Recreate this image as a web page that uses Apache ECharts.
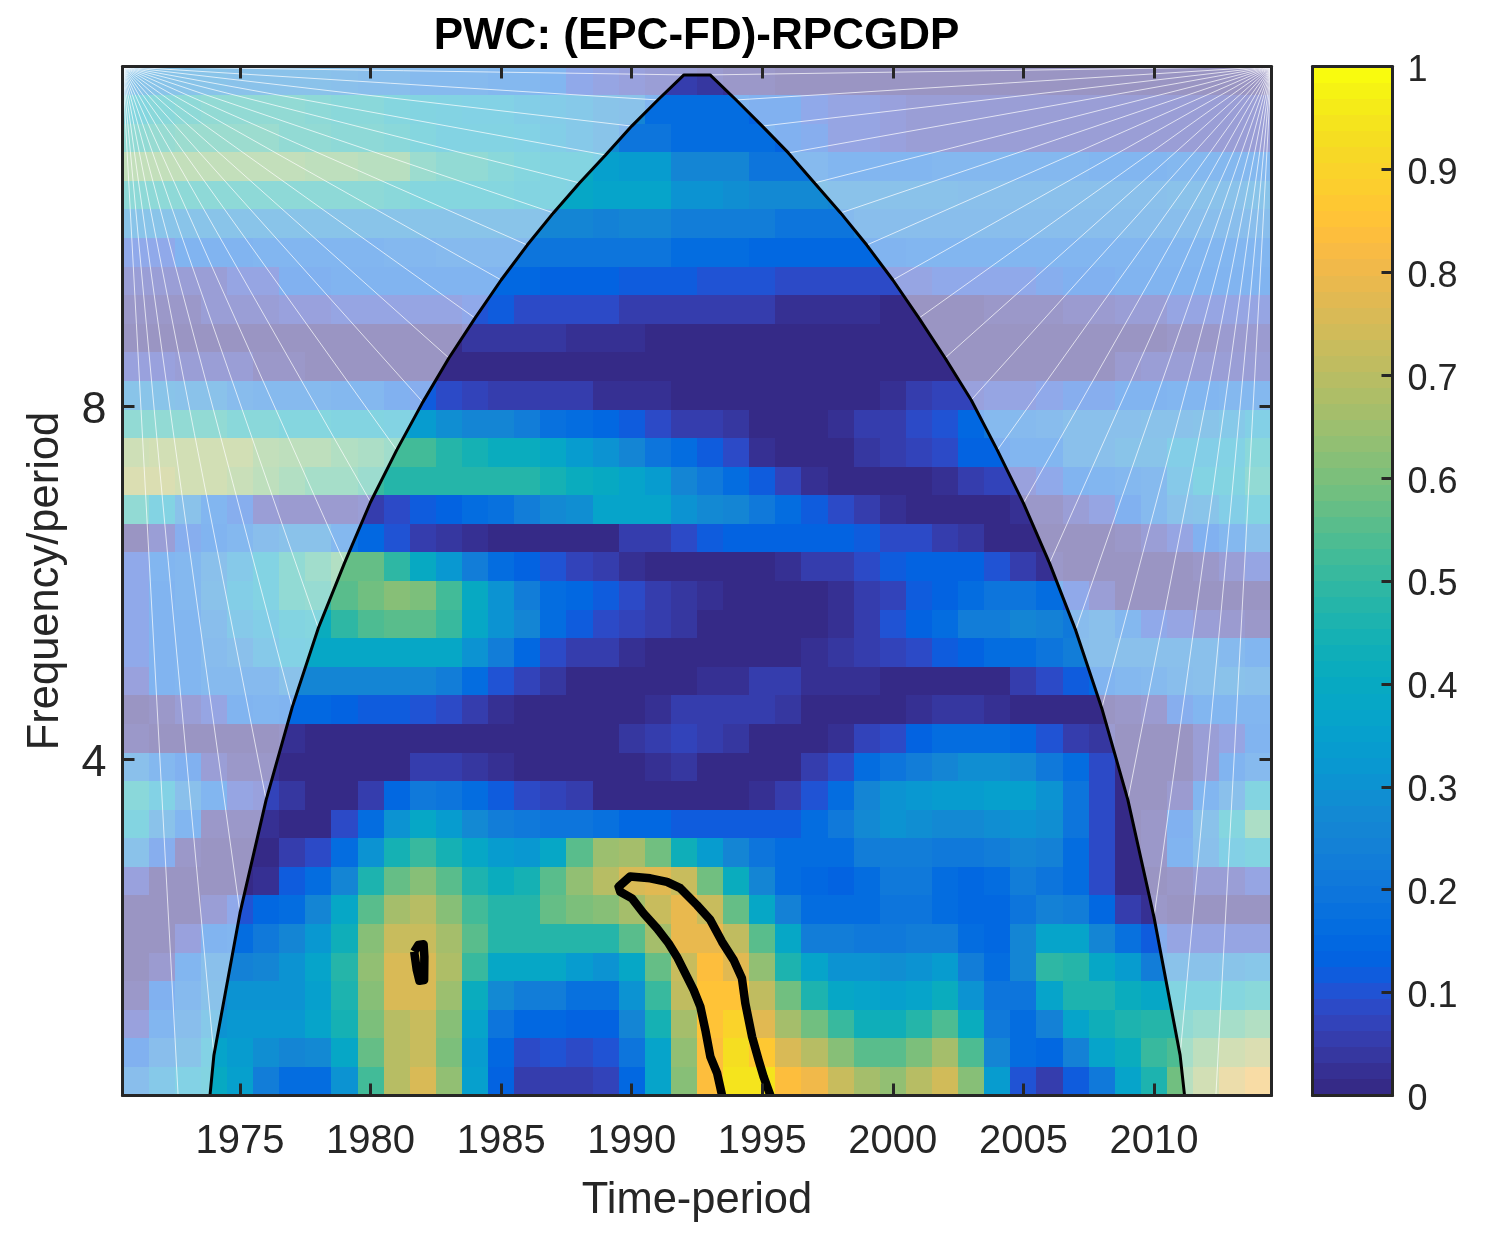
<!DOCTYPE html>
<html>
<head>
<meta charset="utf-8">
<script src="https://cdn.jsdelivr.net/npm/echarts@6/dist/echarts.min.js"></script>
<style>html,body{margin:0;padding:0;background:#fff}#c{width:1511px;height:1233px}</style>
</head>
<body>
<div id="c"></div>
<script>
const chartTitle = 'PWC: (EPC-FD)-RPCGDP';
const xName = 'Time-period';
const yName = 'Frequency/period';
const years = Array.from({length: 44}, (_, i) => 1971 + i);
const yearTicks = [1975, 1980, 1985, 1990, 1995, 2000, 2005, 2010];
const periodTicksLog2 = [2, 3];
const colorTicks = [0, .1, .2, .3, .4, .5, .6, .7, .8, .9, 1];
const xMin = 1970.5, xMax = 2014.5;
const yMin = 1.0467, yMax = 3.9618;

// wavelet coherence, rows from the longest period (top) to the shortest (bottom)
const coherence = [
[.28,.28,.28,.27,.26,.26,.25,.25,.24,.23,.22,.2,.2,.19,.18,.18,.16,.1,.08,.07,.06,.06,.04,.03,.02,.01,.01,.01,.01,0,0,0,0,0,0,0,0,0,0,0,0,0,0,0],
[.42,.44,.46,.47,.48,.48,.47,.46,.45,.44,.42,.4,.38,.37,.37,.34,.32,.3,.28,.26,.16,.16,.16,.16,.13,.13,.1,.09,.08,.07,.06,.06,.06,.06,.06,.06,.06,.06,.06,.06,.06,.06,.06,.06],
[.48,.49,.5,.5,.5,.5,.48,.47,.46,.46,.44,.41,.39,.38,.38,.36,.33,.3,.28,.2,.2,.16,.16,.16,.16,.13,.12,.09,.08,.07,.06,.06,.06,.06,.06,.06,.06,.06,.06,.06,.06,.06,.06,.06],
[.62,.62,.62,.62,.61,.61,.61,.6,.6,.59,.59,.5,.47,.47,.45,.41,.4,.4,.35,.33,.33,.26,.25,.25,.2,.2,.2,.17,.17,.17,.17,.18,.18,.18,.18,.18,.18,.17,.17,.17,.18,.18,.18,.18],
[.46,.46,.46,.46,.46,.46,.46,.46,.46,.46,.44,.42,.42,.42,.41,.4,.4,.39,.37,.37,.36,.31,.31,.29,.28,.28,.27,.25,.25,.25,.25,.25,.24,.24,.24,.24,.24,.24,.24,.24,.25,.25,.26,.27],
[.28,.28,.28,.28,.28,.28,.28,.28,.28,.28,.28,.28,.28,.28,.27,.27,.26,.25,.24,.25,.25,.23,.23,.23,.23,.2,.2,.2,.22,.23,.23,.23,.23,.23,.23,.23,.23,.23,.23,.23,.23,.23,.23,.23],
[.1,.1,.15,.15,.15,.16,.16,.17,.17,.17,.18,.18,.19,.19,.19,.19,.19,.19,.19,.19,.19,.17,.17,.17,.15,.15,.15,.15,.15,.15,.16,.16,.16,.16,.16,.16,.16,.16,.16,.16,.16,.16,.16,.16],
[.06,.06,.06,.06,.09,.09,.13,.13,.15,.15,.15,.15,.15,.15,.15,.15,.14,.14,.14,.12,.12,.12,.1,.1,.1,.08,.08,.08,.08,.08,.09,.1,.1,.1,.1,.12,.13,.14,.15,.15,.15,.15,.15,.15],
[.02,.02,.03,.05,.05,.05,.07,.07,.08,.08,.08,.08,.08,.1,.11,.09,.09,.08,.08,.06,.06,.05,.05,.05,.05,.02,.02,.02,.02,.01,.01,.01,.01,.03,.03,.03,.04,.04,.06,.06,.08,.08,.08,.08],
[.01,.01,.01,.01,.01,.01,.01,.01,.01,.01,.01,.01,.01,.04,.04,.04,.04,.03,.03,.03,0,0,0,0,0,0,0,0,0,0,0,0,0,0,0,0,0,0,0,0,.03,.03,.04,.04],
[.07,.07,.05,.05,.05,.02,.02,0,0,0,0,0,0,0,0,0,0,0,0,0,0,0,0,0,0,0,0,0,0,0,0,0,0,0,0,0,0,0,.04,.05,.05,.05,.06,.06],
[.27,.27,.26,.25,.21,.2,.2,.19,.18,.18,.14,.12,.09,.07,.06,.06,.05,.05,.03,.03,.03,.01,.01,.01,.01,.01,.01,.01,.01,.03,.05,.07,.07,.08,.09,.1,.12,.12,.15,.15,.16,.16,.18,.18],
[.47,.47,.48,.48,.45,.44,.42,.42,.4,.4,.38,.34,.29,.25,.25,.22,.18,.17,.15,.11,.09,.06,.05,.04,0,0,0,.03,.05,.06,.09,.1,.15,.19,.2,.21,.24,.24,.24,.26,.26,.28,.3,.35],
[.65,.66,.66,.66,.66,.62,.6,.6,.57,.55,.53,.53,.47,.44,.42,.41,.38,.34,.3,.25,.2,.16,.11,.08,.03,0,0,0,.04,.05,.07,.08,.14,.14,.17,.17,.24,.24,.27,.27,.33,.33,.37,.45],
[.7,.7,.67,.67,.64,.6,.57,.54,.54,.5,.48,.48,.48,.48,.48,.48,.44,.42,.4,.36,.33,.25,.21,.17,.12,.07,.03,0,0,0,0,.03,.05,.07,.07,.1,.15,.16,.18,.2,.3,.38,.4,.47],
[.47,.38,.26,.16,.12,.05,.04,.04,.04,.05,.09,.11,.13,.16,.18,.23,.27,.29,.36,.36,.36,.31,.27,.26,.21,.16,.11,.08,.05,.03,0,0,0,0,.03,.02,.05,.09,.14,.19,.26,.28,.34,.4],
[0,.05,.11,.15,.18,.23,.26,.26,.18,.15,.1,.05,.04,.03,0,0,0,0,0,.05,.06,.09,.11,.13,.13,.13,.13,.13,.11,.09,.08,.05,.04,0,0,0,0,0,.02,.05,.09,.14,.18,.24],
[.1,.16,.18,.24,.3,.38,.47,.52,.57,.57,.49,.4,.32,.23,.16,.14,.1,.07,.05,.03,0,0,0,0,0,.02,.05,.05,.08,.12,.14,.14,.14,.1,.06,.03,.01,0,0,0,0,.03,.06,.09],
[.1,.15,.18,.25,.33,.38,.47,.49,.56,.59,.62,.6,.52,.4,.31,.23,.16,.15,.11,.08,.06,.04,.03,0,0,0,0,.03,.05,.07,.11,.14,.17,.2,.2,.16,.1,.05,0,0,0,0,0,0],
[.1,.15,.17,.22,.3,.33,.4,.41,.49,.54,.55,.55,.5,.39,.3,.25,.17,.11,.08,.07,.06,.04,0,0,0,0,0,.02,.06,.1,.13,.17,.23,.22,.25,.24,.21,.24,.18,.1,.08,.05,.04,.02],
[.1,.15,.17,.21,.24,.3,.37,.39,.39,.39,.39,.39,.39,.31,.22,.15,.09,.06,.05,.03,0,0,0,0,0,0,.02,.04,.05,.07,.08,.11,.13,.16,.16,.19,.23,.24,.24,.24,.24,.24,.2,.16],
[.07,.15,.17,.19,.2,.2,.26,.26,.26,.26,.25,.25,.23,.16,.1,.07,.04,0,0,0,0,0,.03,.03,.05,.05,.03,.03,.03,0,0,0,0,0,.05,.08,.11,.15,.18,.2,.22,.24,.25,.24],
[.01,.02,.06,.08,.15,.16,.15,.15,.13,.11,.11,.1,.08,.05,.03,0,0,0,0,0,.03,.06,.06,.06,.06,.04,0,0,0,0,.02,.04,.04,.03,0,0,0,0,.02,.04,.11,.16,.17,.17],
[.02,0,0,0,0,0,.03,0,0,0,0,0,0,0,0,0,0,0,0,.04,.05,.07,.06,.04,0,0,0,.03,.07,.09,.14,.16,.17,.17,.15,.1,.06,.04,0,.01,.01,.05,.08,.15],
[.24,.18,.13,.05,.03,.03,0,0,0,0,0,.06,.06,.04,.03,0,0,0,0,0,.03,.04,0,0,0,0,.05,.09,.16,.19,.23,.25,.29,.29,.27,.21,.16,.08,0,0,.01,.06,.15,.2],
[.45,.36,.24,.17,.09,.07,.04,0,0,.05,.15,.21,.2,.16,.12,.08,.07,.05,0,0,0,0,0,0,.03,.06,.1,.17,.25,.3,.32,.33,.33,.35,.35,.3,.2,.09,0,0,.04,.17,.24,.4],
[.4,.25,.16,.03,.02,.02,0,0,.08,.17,.3,.38,.34,.27,.22,.21,.2,.2,.18,.15,.15,.11,.11,.11,.11,.12,.16,.21,.27,.3,.29,.28,.27,.29,.31,.29,.2,.09,0,.03,.14,.26,.42,.55],
[.26,.12,.03,0,0,0,.05,.09,.16,.31,.44,.5,.44,.38,.33,.32,.38,.55,.65,.66,.58,.43,.33,.25,.19,.17,.17,.17,.23,.23,.22,.21,.21,.22,.26,.24,.17,.08,0,.03,.15,.24,.35,.4],
[.07,0,0,0,0,.02,.11,.16,.26,.46,.57,.61,.56,.46,.41,.44,.55,.64,.69,.76,.78,.72,.58,.41,.26,.17,.15,.14,.17,.21,.21,.17,.15,.16,.22,.19,.17,.09,0,.01,.03,.05,.06,.09],
[0,0,0,.05,.1,.15,.17,.25,.38,.56,.66,.69,.62,.53,.47,.47,.57,.6,.61,.67,.73,.79,.73,.57,.39,.24,.17,.16,.16,.19,.19,.17,.15,.15,.2,.24,.22,.15,.06,.02,0,0,0,0],
[0,.01,.07,.15,.17,.21,.25,.32,.43,.61,.73,.73,.67,.55,.47,.47,.47,.47,.47,.55,.66,.79,.79,.71,.56,.38,.23,.22,.21,.21,.22,.22,.16,.15,.25,.37,.36,.26,.18,.12,.09,.08,.08,.09],
[0,.04,.16,.24,.24,.26,.31,.36,.47,.63,.75,.76,.68,.5,.39,.38,.38,.34,.31,.39,.57,.72,.83,.78,.63,.46,.37,.3,.3,.29,.3,.33,.23,.17,.25,.49,.47,.39,.33,.23,.25,.25,.27,.29],
[.02,.13,.2,.25,.3,.31,.31,.35,.46,.62,.75,.76,.65,.42,.27,.23,.22,.18,.18,.3,.5,.71,.85,.85,.71,.59,.46,.38,.36,.35,.37,.41,.31,.2,.19,.36,.46,.46,.41,.39,.4,.4,.42,.44],
[.07,.16,.23,.3,.32,.32,.32,.36,.44,.6,.7,.72,.61,.36,.2,.15,.15,.14,.14,.26,.44,.67,.85,.9,.78,.67,.59,.5,.43,.43,.47,.54,.41,.21,.16,.24,.37,.43,.46,.47,.48,.5,.54,.57],
[.14,.22,.28,.36,.34,.29,.25,.28,.39,.57,.7,.73,.6,.34,.15,.09,.1,.09,.1,.19,.37,.64,.84,.93,.87,.76,.69,.62,.55,.55,.6,.66,.54,.25,.16,.15,.24,.36,.42,.5,.54,.6,.66,.69],
[.22,.3,.37,.4,.35,.22,.17,.16,.31,.52,.7,.76,.63,.35,.14,.06,.06,.06,.07,.15,.37,.61,.84,.95,.94,.84,.8,.73,.66,.64,.69,.74,.62,.33,.1,.06,.12,.21,.36,.46,.58,.66,.76,.8]
];

// cone of influence: year and log2(period)
const coiYears = [1973.85,1974,1975,1976,1977,1978,1979,1980,1981,1982,1983,1984,1985,1986,1987,1988,1989,1990,1991,1992,1993,1994,1995,1996,1997,1998,1999,2000,2001,2002,2003,2004,2005,2006,2007,2008,2009,2010,2011,2011.17];
const coiLog2 = [1.047,1.161,1.564,1.884,2.147,2.371,2.555,2.728,2.875,3.011,3.136,3.249,3.357,3.456,3.547,3.632,3.711,3.793,3.867,3.938,3.938,3.867,3.793,3.717,3.632,3.547,3.456,3.357,3.249,3.136,3.017,2.875,2.725,2.555,2.365,2.144,1.884,1.552,1.161,1.047];
const fanExtraLeftYear = 1972.63, fanExtraRightYear = 2012.37;

// significance contours: year and log2(period)
const contourAYears = [1993.46,1993.27,1993.01,1992.82,1992.63,1992.37,1992.12,1991.73,1991.41,1990.97,1990.45,1990.01,1989.56,1989.5,1989.94,1990.71,1991.35,1991.86,1992.5,1993.01,1993.46,1993.9,1994.22,1994.35,1994.61,1994.86,1995.05,1995.31];
const contourALog2 = [1.047,1.11,1.157,1.232,1.298,1.346,1.383,1.44,1.478,1.52,1.563,1.605,1.624,1.638,1.667,1.662,1.652,1.634,1.586,1.544,1.482,1.431,1.379,1.308,1.213,1.147,1.1,1.047];
const contourBYears = [1981.67,1981.83,1982.03,1982.06,1982.05,1981.87,1981.77,1981.67];
const contourBLog2 = [1.454,1.473,1.475,1.44,1.374,1.372,1.402,1.454];

const parula = [[.2081,.1663,.5292],[.2116,.1898,.5777],[.2123,.2138,.627],[.2081,.2386,.6771],[.1959,.2645,.7279],[.1707,.2919,.7792],[.1253,.3242,.8303],[.0591,.3598,.8683],[.0117,.3875,.882],[.006,.4086,.8828],[.0165,.4266,.8786],[.0329,.443,.872],[.0498,.4586,.8641],[.0629,.4737,.8554],[.0723,.4887,.8467],[.0779,.504,.8384],[.0793,.5204,.8312],[.0749,.5375,.8263],[.0641,.557,.824],[.0488,.5772,.8228],[.0343,.5966,.8199],[.0265,.6137,.8135],[.0239,.6287,.8038],[.0231,.6418,.7913],[.0228,.6535,.7768],[.0267,.6642,.7607],[.0384,.6743,.7436],[.059,.6838,.7254],[.0843,.6928,.7062],[.1133,.7015,.6859],[.1453,.7098,.6646],[.1801,.7177,.6424],[.2178,.725,.6193],[.2586,.7317,.5954],[.3022,.7376,.5712],[.3482,.7424,.5473],[.3953,.7459,.5244],[.442,.7481,.5033],[.4871,.7491,.484],[.53,.7491,.4661],[.5709,.7485,.4494],[.6099,.7473,.4337],[.6473,.7456,.4188],[.6834,.7435,.4044],[.7184,.7411,.3905],[.7525,.7384,.3768],[.7858,.7356,.3633],[.8185,.7327,.3498],[.8507,.7299,.336],[.8824,.7274,.3217],[.9139,.7258,.3063],[.945,.7261,.2886],[.9739,.7314,.2666],[.9938,.7455,.2403],[.999,.7653,.2164],[.9955,.7861,.1967],[.988,.8066,.1794],[.9789,.8271,.1633],[.9697,.8481,.1475],[.9626,.8705,.1309],[.9589,.8949,.1132],[.9598,.9218,.0948],[.9661,.9514,.0755],[.9763,.9831,.0538]];
function colorOf(v) {
  const i = Math.max(0, Math.min(63, Math.floor(v * 64)));
  const c = parula[i];
  return 'rgb(' + c.map(x => Math.round(x * 255)).join(',') + ')';
}

const rowCount = coherence.length;
const rowStep = (yMax - yMin) / rowCount;
const cells = [];
coherence.forEach((row, r) => row.forEach((v, i) => {
  cells.push([years[i], yMax - (r + .5) * rowStep, v]);
}));
const barLevels = parula.map((_, i) => (i + .5) / 64);

function renderCell(params, api) {
  const x = api.value(0), y = api.value(1);
  const a = api.coord([x - .5, y + rowStep / 2]);
  const b = api.coord([x + .5, y - rowStep / 2]);
  const l = Math.round(a[0]), t = Math.round(a[1]);
  return {type: 'rect', shape: {x: l, y: t, width: Math.round(b[0]) - l, height: Math.round(b[1]) - t},
    style: {fill: colorOf(api.value(2))}};
}
function renderBar(params, api) {
  const v = api.value(1);
  const a = api.coord([0, v + 1 / 128]);
  const b = api.coord([1, v - 1 / 128]);
  const t = Math.round(a[1]);
  return {type: 'rect', shape: {x: a[0], y: t, width: b[0] - a[0], height: Math.round(b[1]) - t},
    style: {fill: colorOf(v)}};
}
const coiPairs = coiYears.map((y, i) => [y, coiLog2[i]]);
function renderMask(params, api) {
  if (params.dataIndex !== 0) return null;
  const pts = [[xMin, yMin]].concat(coiPairs, [[xMax, yMin], [xMax, yMax], [xMin, yMax]]).map(p => api.coord(p));
  return {type: 'polygon', shape: {points: pts}, style: {fill: 'rgba(255,255,255,0.5)'}};
}
const half = Math.floor(coiPairs.length / 2);
const fanLines = [];
coiPairs.slice(1, half).concat([[fanExtraLeftYear, yMin]]).forEach(p => fanLines.push([[xMin, yMax], p]));
coiPairs.slice(half, coiPairs.length - 1).concat([[fanExtraRightYear, yMin]]).forEach(p => fanLines.push([[xMax, yMax], p]));
const fanData = [];
fanLines.forEach(l => { fanData.push(l[0], l[1], [null, null]); });

const AXC = '#262626', FONT = '"Liberation Sans", Arial, sans-serif';
const lineStyle = {color: AXC, width: 3};
function frameAxis(extra) {
  return Object.assign({
    type: 'value', z: 10, gridIndex: 0, scale: true, splitLine: {show: false},
    axisLine: {show: true, onZero: false, lineStyle: lineStyle},
  }, extra);
}
const tickStyle = {inside: true, length: 12, lineStyle: {color: AXC, width: 3}};

const option = {
  animation: false,
  backgroundColor: '#fff',
  title: {text: chartTitle, left: 691.5, top: 10, textAlign: 'center',
    textStyle: {color: '#000', fontFamily: FONT, fontWeight: 'bold', fontSize: 44}},
  grid: [
    {left: 122.5, top: 66.5, width: 1149, height: 1029},
    {left: 1312.5, top: 66.5, width: 80, height: 1029}
  ],
  xAxis: [
    frameAxis({position: 'bottom', min: xMin, max: xMax, name: xName, nameLocation: 'middle', nameGap: 83,
      nameTextStyle: {color: AXC, fontFamily: FONT, fontSize: 43.5},
      axisTick: Object.assign({customValues: yearTicks}, tickStyle),
      axisLabel: {show: true, customValues: yearTicks, margin: 26, formatter: v => String(v), showMinLabel: true, showMaxLabel: true,
        color: AXC, fontFamily: FONT, fontSize: 40}}),
    frameAxis({position: 'top', min: xMin, max: xMax,
      axisTick: Object.assign({customValues: yearTicks}, tickStyle), axisLabel: {show: false}}),
    frameAxis({gridIndex: 1, position: 'bottom', min: 0, max: 1, axisTick: {show: false}, axisLabel: {show: false}}),
    frameAxis({gridIndex: 1, position: 'top', min: 0, max: 1, axisTick: {show: false}, axisLabel: {show: false}})
  ],
  yAxis: [
    frameAxis({position: 'left', min: yMin, max: yMax, name: yName, nameLocation: 'middle', nameGap: 55,
      nameTextStyle: {color: AXC, fontFamily: FONT, fontSize: 43.5},
      axisTick: Object.assign({customValues: periodTicksLog2}, tickStyle),
      axisLabel: {show: true, customValues: periodTicksLog2, margin: 16, verticalAlign: 'top', lineHeight: 10, formatter: v => String(Math.pow(2, v)),
        color: AXC, fontFamily: FONT, fontSize: 45}}),
    frameAxis({position: 'right', min: yMin, max: yMax,
      axisTick: Object.assign({customValues: periodTicksLog2}, tickStyle), axisLabel: {show: false}}),
    frameAxis({gridIndex: 1, position: 'left', min: 0, max: 1, axisTick: {show: false}, axisLabel: {show: false}}),
    frameAxis({gridIndex: 1, position: 'right', min: 0, max: 1,
      axisTick: {customValues: colorTicks, inside: true, length: 11, lineStyle: {color: AXC, width: 3}},
      axisLabel: {show: true, customValues: colorTicks, margin: 15, verticalAlign: 'top', lineHeight: 9, formatter: v => String(v),
        color: AXC, fontFamily: FONT, fontSize: 36}})
  ],
  series: [
    {type: 'custom', name: 'coherence', xAxisIndex: 0, yAxisIndex: 0, coordinateSystem: 'cartesian2d', renderItem: renderCell,
      data: cells, silent: true, clip: true, z: 1, encode: {x: 0, y: 1}},
    {type: 'custom', name: 'outside cone', xAxisIndex: 0, yAxisIndex: 0, coordinateSystem: 'cartesian2d', renderItem: renderMask,
      data: [[xMin, yMin]], silent: true, clip: true, z: 2, encode: {x: 0, y: 1}},
    {type: 'line', name: 'fan', xAxisIndex: 0, yAxisIndex: 0, data: fanData, showSymbol: false, symbol: 'none', connectNulls: false,
      lineStyle: {color: 'rgba(255,255,255,0.7)', width: 1}, silent: true, z: 3, clip: true},
    {type: 'line', name: 'cone of influence', xAxisIndex: 0, yAxisIndex: 0, data: coiPairs, showSymbol: false, symbol: 'none',
      lineStyle: {color: '#000', width: 3}, silent: true, z: 4, clip: true},
    {type: 'line', name: 'contour A', xAxisIndex: 0, yAxisIndex: 0, data: contourAYears.map((y, i) => [y, contourALog2[i]]), showSymbol: false, symbol: 'none',
      lineStyle: {color: '#000', width: 8.5, join: 'round'}, silent: true, z: 5, clip: true},
    {type: 'line', name: 'contour B', xAxisIndex: 0, yAxisIndex: 0, data: contourBYears.map((y, i) => [y, contourBLog2[i]]), showSymbol: false, symbol: 'none',
      lineStyle: {color: '#000', width: 8.5, join: 'round'}, silent: true, z: 5, clip: true},
    {type: 'custom', name: 'colorbar', xAxisIndex: 2, yAxisIndex: 2, coordinateSystem: 'cartesian2d', renderItem: renderBar,
      data: barLevels.map(v => [.5, v]), silent: true, z: 1, encode: {x: 0, y: 1}}
  ]
};
const chart = echarts.init(document.getElementById('c'), null, {renderer: 'canvas'});
chart.setOption(option);
</script>
</body>
</html>
